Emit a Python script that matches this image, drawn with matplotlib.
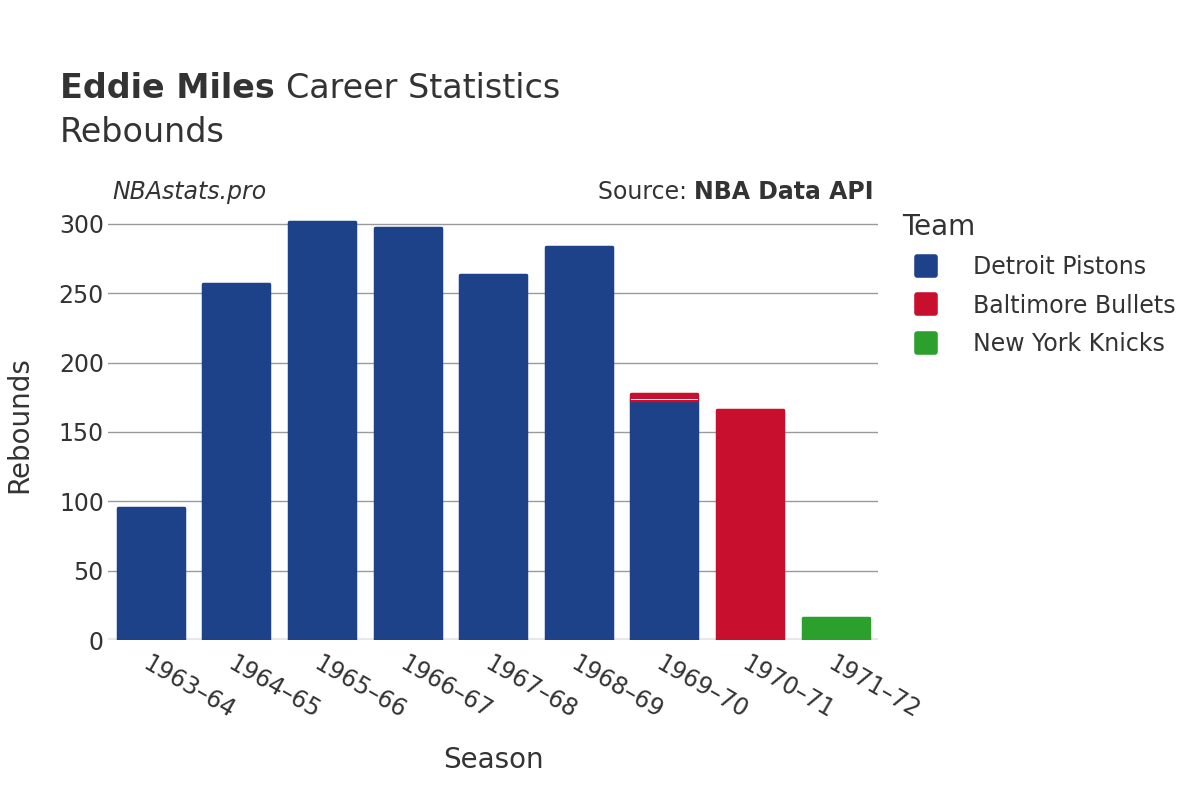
import matplotlib.pyplot as plt
from matplotlib.lines import Line2D
from matplotlib.markers import MarkerStyle
import numpy as np

seasons = ['1963–64', '1964–65', '1965–66', '1966–67', '1967–68',
           '1968–69', '1969–70', '1970–71', '1971–72']
teams = ['Detroit Pistons', 'Baltimore Bullets', 'New York Knicks']
colores = ['#1d428a', '#c8102e', '#2ca02c']

detroit = [95, 257, 301, 297, 263, 283, 173, 0, 0]
baltimore = [0, 0, 0, 0, 0, 0, 4, 166, 0]
new_york = [0, 0, 0, 0, 0, 0, 0, 0, 16]


def texto_seguido(fig, renderer, x, y, partes, **kw):
    # escribe trozos de texto uno tras otro en la misma linea
    for texto, peso in partes:
        t = fig.text(x, y, texto, fontweight=peso, **kw)
        bb = t.get_window_extent(renderer)
        x += bb.width / fig.bbox.width


def graficar(save_path='out.png'):
    plt.rcParams['font.family'] = ['DejaVu Sans']
    fig = plt.figure(figsize=(12, 8), dpi=100)
    ax = fig.add_axes([0.09, 0.2, 0.642, 0.5375])
    renderer = fig.canvas.get_renderer()

    x = np.arange(len(seasons))
    bottom = np.zeros(len(seasons))
    for vals, color in zip([detroit, baltimore, new_york], colores):
        vals = np.array(vals, dtype=float)
        mask = vals > 0
        ax.bar(x[mask], vals[mask], width=0.77, bottom=bottom[mask],
               color=color, edgecolor=color, linewidth=2.5,
               joinstyle='round', zorder=3)
        bottom += vals
    # linea blanca entre segmentos apilados
    ax.bar(x[6], 1.0, width=0.79, bottom=detroit[6], color='white', zorder=4)

    ax.set_xlim(-0.5, len(seasons) - 0.5)
    ax.set_ylim(0, 310)
    ax.set_yticks(range(0, 301, 50))
    ax.yaxis.grid(True, color='#9a9a9a', linewidth=1, zorder=0)
    ax.axhline(0, color='#e8e8e8', linewidth=3, zorder=2)
    for s in ax.spines.values():
        s.set_visible(False)
    ax.tick_params(length=0, labelsize=17, colors='#333333')
    ax.tick_params(axis='y', pad=3)
    ax.tick_params(axis='x', pad=8)
    ax.set_xticks(x)
    ax.set_xticklabels(seasons, rotation=-30, ha='left', rotation_mode='anchor')
    ax.set_xlabel('Season', fontsize=20, color='#333333', labelpad=17)
    ax.set_ylabel('Rebounds', fontsize=20, color='#333333', labelpad=18)

    texto_seguido(fig, renderer, 0.05, 0.889,
                  [('Eddie Miles ', 'bold'), ('Career Statistics', 'normal')],
                  fontsize=24, color='#333333', va='center')
    fig.text(0.05, 0.835, 'Rebounds', fontsize=24, color='#333333', va='center')
    fig.text(0.094, 0.76, 'NBAstats.pro', fontsize=17, style='italic',
             color='#333333', va='center')
    fuente = fig.text(0.728, 0.76, 'NBA Data API', fontsize=17, fontweight='bold',
                      color='#333333', va='center', ha='right')
    ancho = fuente.get_window_extent(renderer).width / fig.bbox.width
    fig.text(0.728 - ancho, 0.76, 'Source: ', fontsize=17, color='#333333',
             va='center', ha='right')

    marcador = MarkerStyle('s', joinstyle='round')
    handles = [Line2D([0], [0], marker=marcador, linestyle='', markersize=13,
                      markerfacecolor=c, markeredgecolor=c, markeredgewidth=4)
               for c in colores]
    leg = fig.legend(handles, teams, loc='upper left',
                     bbox_to_anchor=(0.738, 0.754), frameon=False,
                     fontsize=17, title='Team', title_fontsize=20,
                     labelspacing=0.6, handletextpad=1.0, borderpad=0.2)
    leg._legend_box.align = 'left'
    for t in leg.get_texts():
        t.set_color('#333333')
    leg.get_title().set_color('#333333')

    fig.savefig(save_path, dpi=100)


def main():
    graficar()


if __name__ == "__main__":
    main()
